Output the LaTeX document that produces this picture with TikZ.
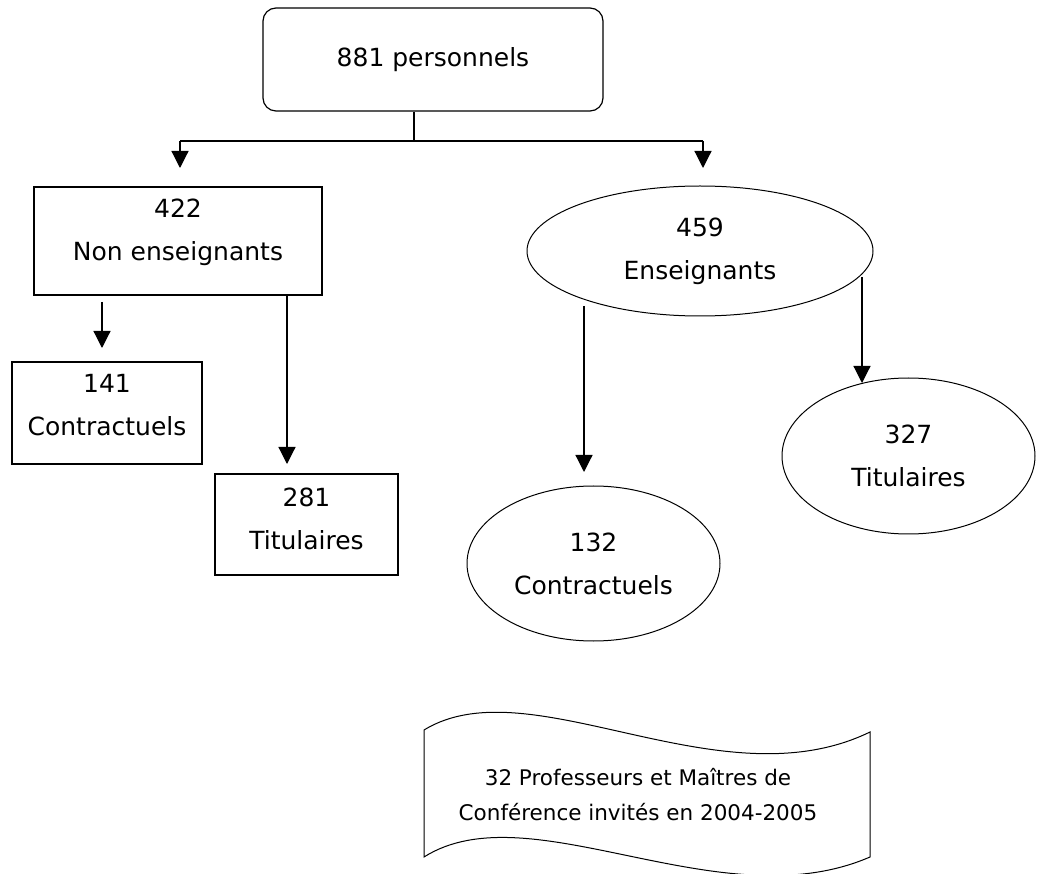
\documentclass[tikz,border=0pt]{standalone}
\usepackage{fontspec}
\setmainfont{DejaVu Sans}
\usetikzlibrary{arrows.meta,positioning,shapes.geometric}

\begin{document}
\begin{tikzpicture}[x=1pt,y=-1pt]
	\tikzstyle{rect}=[draw, rectangle, align=center, line width=1.2pt, font=\fontsize{25}{43}\selectfont]
	\tikzstyle{rrect}=[rect, rounded corners=13pt]
	\tikzstyle{ell}=[draw, ellipse, align=center, inner sep=0pt, line width=1pt, font=\fontsize{25}{43}\selectfont]
	\tikzstyle{wtext}=[align=center, font=\fontsize{21.5}{35}\selectfont]
	\tikzstyle{arr}=[-{Triangle[width=17pt,length=17pt]}, line width=1.2pt]

	\useasboundingbox (0,0) rectangle (1037,874);

	\node[rrect, minimum width=340pt, minimum height=103pt] (pers) at (433,59.5) {881 personnels};

	\node[rect, minimum width=288pt, minimum height=108pt, text depth=22pt] (ne) at (178,241) {422\\Non enseignants};
	\node[ell, minimum width=346pt, minimum height=130pt] (ens) at (700,251) {459\\Enseignants};

	\node[rect, minimum width=190pt, minimum height=102pt, text depth=16pt] (c141) at (107,413) {141\\Contractuels};
	\node[rect, minimum width=183pt, minimum height=101pt, text depth=12pt] (t281) at (306.5,524.5) {281\\Titulaires};
	\node[ell, minimum width=253pt, minimum height=155pt] (c132) at (593.5,563.5) {132\\Contractuels};
	\node[ell, minimum width=253pt, minimum height=156pt] (t327) at (908.5,456) {327\\Titulaires};

	% les invites
	\draw[line width=1pt] (424,730) .. controls (530,665) and (720,805) .. (870,732)
		-- (870,857) .. controls (720,922) and (530,790) .. (424,857) -- cycle;
	\node[wtext] (inv) at (638,795) {32 Professeurs et Maîtres de\\Conférence invités en 2004-2005};

	\coordinate (stem) at (414,141);
	\coordinate (brl) at (180,141);
	\coordinate (brr) at (703,141);
	\coordinate (ne-in) at (180,168);
	\coordinate (ens-in) at (703,168);
	\coordinate (c141-from) at (102,302);
	\coordinate (c141-to) at (102,348);
	\coordinate (t281-to) at (287,464);
	\coordinate (c132-from) at (584,306);
	\coordinate (c132-to) at (584,472);
	\coordinate (t327-from) at (862,277);
	\coordinate (t327-to) at (862,383);

	\draw[line width=1.2pt] (pers.south -| stem) -- (stem);
	\draw[line width=1.2pt] (brl) -- (brr);
	\draw[arr] (brl) -- (ne-in);
	\draw[arr] (brr) -- (ens-in);
	\draw[arr] (c141-from) -- (c141-to);
	\draw[arr] (ne.south -| t281-to) -- (t281-to);
	\draw[arr] (c132-from) -- (c132-to);
	\draw[arr] (t327-from) -- (t327-to);
\end{tikzpicture}
\end{document}
